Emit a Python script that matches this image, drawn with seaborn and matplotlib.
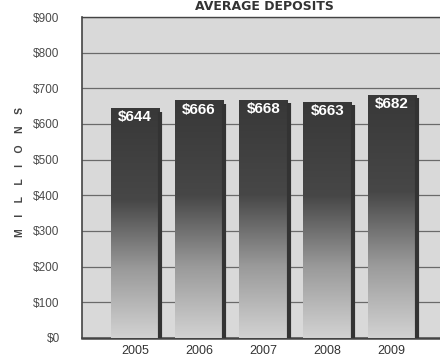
import numpy as np
import pandas as pd
import matplotlib
matplotlib.use("Agg")
import matplotlib.pyplot as plt
import seaborn as sns

years = ["2005", "2006", "2007", "2008", "2009"]
deposits = [644, 666, 668, 663, 682]
y_ticks = [0, 100, 200, 300, 400, 500, 600, 700, 800, 900]
y_tick_labels = ["$0", "$100", "$200", "$300", "$400", "$500", "$600", "$700", "$800", "$900"]

sns.set_theme(style="white")
plt.rcParams["font.family"] = ["Liberation Sans", "DejaVu Sans"]

df = pd.DataFrame({"year": years, "deposits": deposits})

fig = plt.figure(figsize=(4.4, 3.58), dpi=100)
fig.patch.set_facecolor("white")
ax = fig.add_axes([0.186, 0.0559, 0.83, 0.8966])
ax.set_facecolor("#d9d9d9")

sns.barplot(data=df, x="year", y="deposits", ax=ax, width=0.75,
            color="#555555", edgecolor="none", zorder=3)

ax.set_xlim(-0.825, 4.86)
ax.set_ylim(0, 900)

# horizontal grid behind the bars
for t in y_ticks[1:]:
    ax.axhline(t, color="#6a6a6a", lw=0.9, zorder=1)

# vertical gradient fill + right-edge shadow on each bar
grad = np.linspace(0, 1, 256).reshape(-1, 1)
cmap = matplotlib.colors.LinearSegmentedColormap.from_list(
    "bar", [(0.0, "#d2d2d2"), (0.3, "#9a9a9a"), (0.6, "#474747"), (1.0, "#383838")])
for patch, val in zip(ax.patches, deposits):
    x0 = patch.get_x()
    w = patch.get_width()
    h = patch.get_height()
    im = ax.imshow(grad, extent=(x0, x0 + w, 0, h), origin="lower",
                   cmap=cmap, aspect="auto", zorder=4, vmin=0, vmax=1)
    im.set_clip_path(patch)
    ax.plot([x0 + w + 0.02, x0 + w + 0.02], [0, h - 10], color="#333333",
            lw=3.0, zorder=4, solid_capstyle="butt")
    ax.text(x0 + w / 2, val - 6, f"${val}", ha="center", va="top",
            color="white", fontsize=11, fontweight="bold", zorder=6,
            family=["Liberation Sans Narrow", "Liberation Sans", "DejaVu Sans"])

ax.set_yticks(y_ticks)
ax.set_yticklabels(y_tick_labels)
ax.tick_params(axis="y", length=0, pad=16, labelsize=8.5, labelcolor="#4a4a4a")
ax.tick_params(axis="x", length=0, pad=5, labelsize=9, labelcolor="#333333")
ax.set_xlabel("")
ax.set_ylabel("")

for side in ["left", "bottom", "top"]:
    ax.spines[side].set_visible(True)
    ax.spines[side].set_color("#444444")
ax.spines["left"].set_linewidth(1.2)
ax.spines["bottom"].set_linewidth(1.8)
ax.spines["top"].set_linewidth(1.0)
ax.spines["right"].set_visible(False)

fig.text(0.045, 1 - 172 / 358, "M    I    L    L    I    O    N    S", rotation=90,
         ha="center", va="center", fontsize=7.5, fontweight="bold", color="#444444")
fig.text(0.602, 1.0, "AVERAGE DEPOSITS", ha="center", va="top",
         fontsize=9, fontweight="bold", color="#333333",
         family=["DejaVu Sans"])

fig.savefig("out.png", dpi=100)
